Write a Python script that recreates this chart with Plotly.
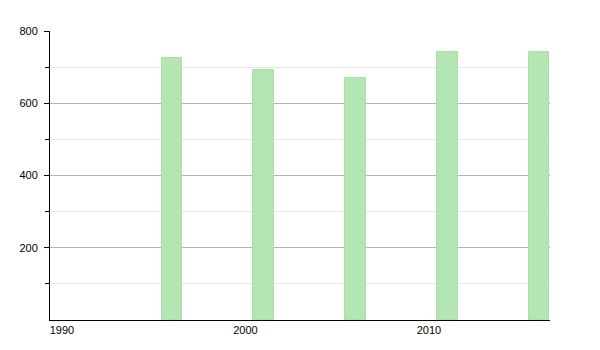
import plotly.graph_objects as go

years = [1996, 2001, 2006, 2011, 2016]
population = [726, 693, 671, 743, 743]
x_tick_vals = [1990, 2000, 2010]
x_tick_text = ["1990", "2000", "2010"]
y_tick_vals = [200, 400, 600, 800]
y_tick_text = ["200", "400", "600", "800"]
y_minor_vals = [100, 300, 500, 700]

fig = go.Figure()
fig.add_trace(go.Bar(
    x=years, y=population, width=1.13,
    marker=dict(color="#b3e6b3", line=dict(color="#a9dfa9", width=1)),
    hoverinfo="x+y",
))

fig.update_layout(
    width=600, height=350,
    margin=dict(l=50, r=50, t=31, b=30),
    paper_bgcolor="white", plot_bgcolor="white",
    showlegend=False,
    font=dict(family="Liberation Sans, Arial, sans-serif", size=11, color="#000"),
    bargap=0,
)
fig.update_xaxes(
    range=[1989.35, 2016.6],
    tickvals=x_tick_vals, ticktext=x_tick_text,
    showgrid=False, zeroline=False,
    showline=True, linecolor="#000", linewidth=1,
    ticks="outside", ticklen=0, tickcolor="#000",
    ticklabelstandoff=0,
)
fig.update_yaxes(
    range=[0, 800],
    tickvals=y_tick_vals, ticktext=y_tick_text,
    showgrid=True, gridcolor="#b4b4b4", gridwidth=1,
    zeroline=False,
    showline=True, linecolor="#000", linewidth=1,
    ticks="outside", ticklen=5, tickcolor="#000",
    ticklabelstandoff=4,
    minor=dict(tickvals=y_minor_vals, ticks="outside", ticklen=4, tickcolor="#000",
               showgrid=True, gridcolor="#e6e6e6", gridwidth=1),
)

fig.write_html("out.html")
